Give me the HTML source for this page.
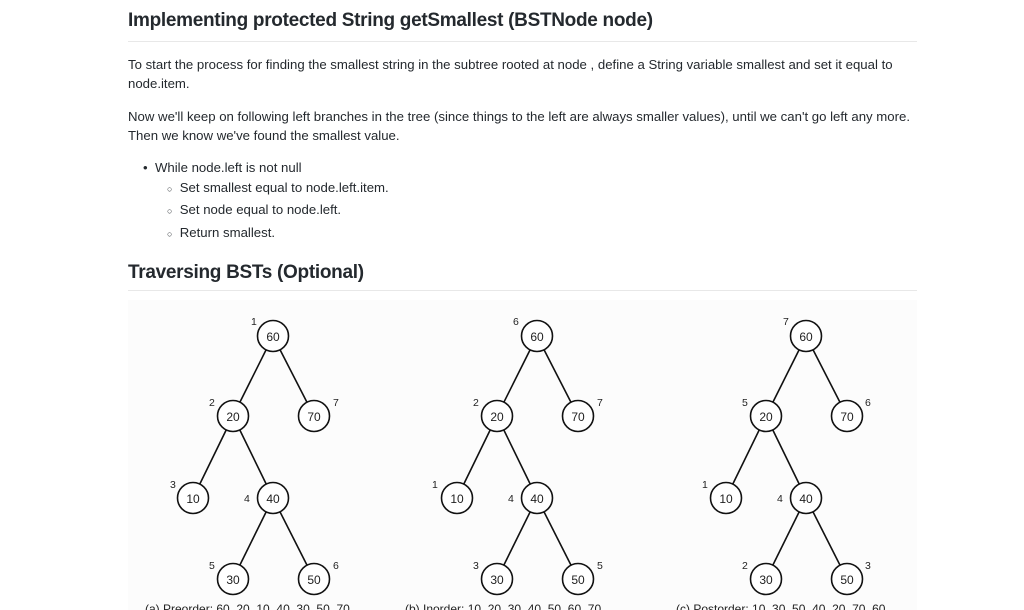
<!DOCTYPE html>
<html><head><meta charset="utf-8"><style>
body{margin:0;background:#fff;width:1024px;height:610px;overflow:hidden;font-family:"Liberation Sans",sans-serif;color:#24292e;position:relative}
h1{position:absolute;left:128px;top:10px;margin:0;font-size:19px;font-weight:bold;letter-spacing:-0.3px}
.hr{position:absolute;left:128px;width:789px;height:1px;background:#e8e8e8}
p{margin:0;font-size:13.2px;position:absolute;left:128px;line-height:19px;white-space:nowrap}
</style></head><body>
<h1>Implementing protected String getSmallest (BSTNode node)</h1>
<div class="hr" style="top:41px"></div>
<p style="top:55px">To start the process for finding the smallest string in the subtree rooted at node , define a String variable smallest and set it equal to<br>node.item.</p>
<p style="top:107px">Now we'll keep on following left branches in the tree (since things to the left are always smaller values), until we can't go left any more.<br>Then we know we've found the smallest value.</p>
<p style="top:158px;left:143px">•&nbsp;&nbsp;While node.left is not null</p>
<p style="top:178px;left:167px"><span style="font-size:9px">○</span>&nbsp;&nbsp;Set smallest equal to node.left.item.</p>
<p style="top:200px;left:167px"><span style="font-size:9px">○</span>&nbsp;&nbsp;Set node equal to node.left.</p>
<p style="top:223px;left:167px"><span style="font-size:9px">○</span>&nbsp;&nbsp;Return smallest.</p>
<h1 style="top:262px">Traversing BSTs (Optional)</h1>
<div class="hr" style="top:290px"></div>
<svg style="position:absolute;left:0;top:0" width="1024" height="610">
<rect x="128" y="300" width="789" height="310" fill="#fcfcfc"/>
<defs>
<g id="t" stroke="#111" stroke-width="1.6" fill="#fff">
<line x1="273" y1="336" x2="233" y2="416"/><line x1="273" y1="336" x2="314" y2="416"/>
<line x1="233" y1="416" x2="193" y2="498"/><line x1="233" y1="416" x2="273" y2="498"/>
<line x1="273" y1="498" x2="233" y2="579"/><line x1="273" y1="498" x2="314" y2="579"/>
<circle cx="273" cy="336" r="15.5"/><circle cx="233" cy="416" r="15.5"/><circle cx="314" cy="416" r="15.5"/>
<circle cx="193" cy="498" r="15.5"/><circle cx="273" cy="498" r="15.5"/><circle cx="233" cy="579" r="15.5"/><circle cx="314" cy="579" r="15.5"/>
<g stroke="none" fill="#222" font-family="Liberation Sans,sans-serif" font-size="12" text-anchor="middle">
<text x="273" y="341">60</text><text x="233" y="421">20</text><text x="314" y="421">70</text>
<text x="193" y="503">10</text><text x="273" y="503">40</text><text x="233" y="584">30</text><text x="314" y="584">50</text>
</g></g></defs>
<g font-family="Liberation Sans,sans-serif" font-size="10.5" fill="#222">
<use href="#t"/>
<text x="251" y="325">1</text><text x="209" y="406">2</text><text x="333" y="406">7</text><text x="170" y="488">3</text><text x="244" y="502">4</text><text x="209" y="569">5</text><text x="333" y="569">6</text>
<use href="#t" transform="translate(264,0)"/>
<text x="513" y="325">6</text><text x="473" y="406">2</text><text x="597" y="406">7</text><text x="432" y="488">1</text><text x="508" y="502">4</text><text x="473" y="569">3</text><text x="597" y="569">5</text>
<use href="#t" transform="translate(533,0)"/>
<text x="783" y="325">7</text><text x="742" y="406">5</text><text x="865" y="406">6</text><text x="702" y="488">1</text><text x="777" y="502">4</text><text x="742" y="569">2</text><text x="865" y="569">3</text>
<g font-size="12"><text x="145" y="613">(a) Preorder: 60, 20, 10, 40, 30, 50, 70</text>
<text x="405" y="613">(b) Inorder: 10, 20, 30, 40, 50, 60, 70</text>
<text x="676" y="613">(c) Postorder: 10, 30, 50, 40, 20, 70, 60</text></g>
</g></svg>
</body></html>
